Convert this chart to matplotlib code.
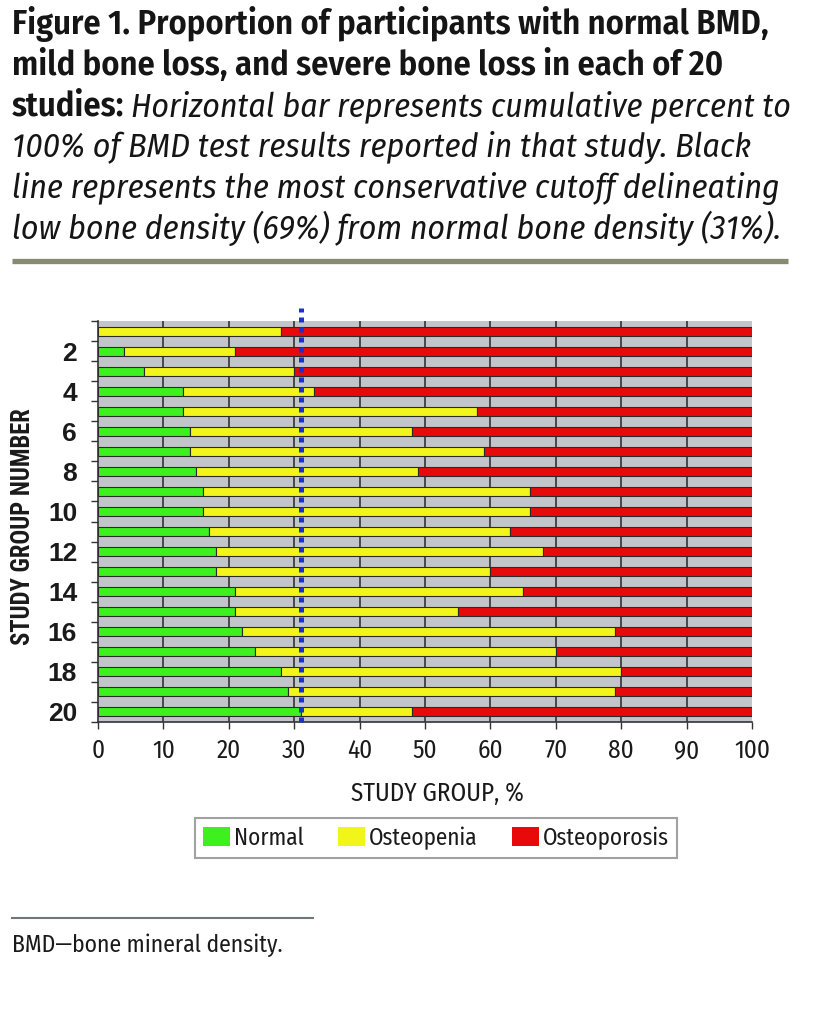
import matplotlib
matplotlib.use("Agg")
import matplotlib.pyplot as plt
import matplotlib.transforms as mtransforms
from matplotlib.patches import Patch
import numpy as np

HUMAN = ['Fira Sans Condensed', 'DejaVu Sans']
NARROW = ['Roboto Condensed', 'DejaVu Sans']
GROTESK = ['Liberation Sans', 'DejaVu Sans']
plt.rcParams['font.family'] = HUMAN

# data (percent of participants per study)
studies = list(range(1, 21))
normal = [0, 4, 7, 13, 13, 14, 14, 15, 16, 16, 17, 18, 18, 21, 21, 22, 24, 28, 29, 31]
osteopenia = [28, 17, 23, 20, 45, 34, 45, 34, 50, 50, 46, 50, 42, 44, 34, 57, 46, 52, 50, 17]
osteoporosis = [72, 79, 70, 67, 42, 52, 41, 51, 34, 34, 37, 32, 40, 35, 45, 21, 30, 20, 21, 52]
cutoff = 31
series_names = ['Normal', 'Osteopenia', 'Osteoporosis']
series_colors = ['#3ef01e', '#f2f51a', '#e80a0a']
x_ticks = list(range(0, 101, 10))

title_lines = [
    [("Figure 1. Proportion of participants with normal BMD,", 'bold')],
    [("mild bone loss, and severe bone loss in each of 20", 'bold')],
    [("studies:", 'bold'),
     ("Horizontal bar represents cumulative percent to", 'italic')],
    [("100% of BMD test results reported in that study. Black", 'italic')],
    [("line represents the most conservative cutoff delineating", 'italic')],
    [("low bone density (69%) from normal bone density (31%).", 'italic')],
]

W, H = 822, 1021
fig = plt.figure(figsize=(W / 100, H / 100), dpi=100)
renderer = fig.canvas.get_renderer()


def px(x, y):
    """pixel (from top-left) to figure fraction"""
    return x / W, 1 - y / H


def fit_size(text, target, family, weight='normal', style='normal'):
    """font size (pt) that makes text about target pixels wide"""
    t = fig.text(0, 0, text, fontsize=20, family=family, fontweight=weight, fontstyle=style)
    w = t.get_window_extent(renderer).width
    t.remove()
    return 20 * target / w


# --- title block ---
bold_size = fit_size(title_lines[0][0][0], 758, HUMAN, 'semibold')
ital_size = fit_size(title_lines[5][0][0], 768, HUMAN, 'normal', 'italic')
styles = {'bold': dict(fontweight='semibold', fontsize=bold_size),
          'italic': dict(fontstyle='italic', fontsize=ital_size)}

for i, pieces in enumerate(title_lines):
    x = 12
    y = 34 + i * 41
    for txt, kind in pieces:
        t = fig.text(*px(x, y), txt, va='baseline', ha='left', color='#151515', **styles[kind])
        x = t.get_window_extent(renderer).x1 + bold_size * 0.25

fig.add_artist(plt.Line2D([12 / W, 788 / W], [1 - 261.5 / H] * 2, color='#868b72',
                          lw=3.8, solid_capstyle='butt'))

# --- chart ---
ax = fig.add_axes([98 / W, 1 - 722 / H, 654 / W, 401 / H])
ax.set_facecolor('#c2c6ca')
ypos = np.arange(len(studies))
left = np.zeros(len(studies))
for vals, name, col in zip([normal, osteopenia, osteoporosis], series_names, series_colors):
    ax.barh(ypos, vals, left=left, height=0.45, color=col, edgecolor='#2a2a2a',
            linewidth=0.8, label=name, zorder=3)
    left = left + np.array(vals)

xtick_size = fit_size('100', 36, HUMAN)
ax.set_xlim(0, 100)
ax.set_ylim(len(studies) - 0.5, -0.5)
ax.set_xticks(x_ticks)
ax.set_xticklabels([str(v) for v in x_ticks], fontsize=xtick_size, color='#1a1a1a')
ax.tick_params(axis='x', length=5, width=1, pad=7, color='#333333')

# ticks at row boundaries, labels on even studies
ax.set_yticks(np.arange(len(studies) + 1) - 0.5)
ax.set_yticklabels([])
ax.tick_params(axis='y', which='major', length=5, width=1, color='#333333')
even = [i for i, s in enumerate(studies) if s % 2 == 0]
ax.set_yticks(even, minor=True)
ax.set_yticklabels([str(studies[i]) for i in even], minor=True, fontsize=19,
                   fontweight='bold', family=GROTESK, color='#1a1a1a')
ax.tick_params(axis='y', which='minor', length=0, pad=15)

ax.grid(axis='x', color='#333333', lw=1.2, zorder=1)
ax.set_axisbelow(True)
ax.xaxis.get_gridlines()[-1].set_visible(False)
ax.xaxis.get_gridlines()[0].set_visible(False)
for s in ['top', 'right']:
    ax.spines[s].set_visible(False)
for s in ['left', 'bottom']:
    ax.spines[s].set_color('#333333')
    ax.spines[s].set_linewidth(1.2)

# cutoff line, dotted, reaching a bit above the plot
trans = mtransforms.blended_transform_factory(ax.transData, ax.transAxes)
ax.plot([cutoff, cutoff], [0, 1.033], transform=trans, color='#1c30d2', lw=3.6,
        linestyle=(0, (1, 1)), dash_capstyle='butt', clip_on=False, zorder=5)

ylab_size = fit_size('STUDY GROUP NUMBER', 237, NARROW, 'bold')
fig.text(*px(23, 527), 'STUDY GROUP NUMBER', rotation=90, fontsize=ylab_size,
         fontweight='bold', family=NARROW, ha='center', va='center', color='#1a1a1a')
xlab_size = fit_size('STUDY GROUP, %', 173, HUMAN)
fig.text(*px(437, 794), 'STUDY GROUP, %', fontsize=xlab_size, ha='center', va='center',
         color='#1a1a1a')

leg_size = fit_size('NormalOsteopeniaOsteoporosis', 305, HUMAN)
em = leg_size * 100 / 72
handles = [Patch(facecolor=c, edgecolor='none', label=n)
           for n, c in zip(series_names, series_colors)]
leg = fig.legend(handles=handles, loc='center', bbox_to_anchor=px(436, 838), ncol=3,
                 fontsize=leg_size, frameon=True, fancybox=False, handlelength=27 / em,
                 handleheight=20 / em, handletextpad=4 / em, columnspacing=34 / em,
                 borderpad=0.35, borderaxespad=0)
leg.get_frame().set_edgecolor('#8a8a8a')
leg.get_frame().set_linewidth(1.5)
for t in leg.get_texts():
    t.set_color('#1a1a1a')

# --- footnote ---
fig.add_artist(plt.Line2D([12 / W, 313 / W], [1 - 918 / H] * 2, color='#6f7878', lw=1.5))
foot_size = fit_size('BMD\u2014bone mineral density.', 271, HUMAN)
fig.text(*px(12, 952), 'BMD\u2014bone mineral density.', fontsize=foot_size, va='baseline',
         ha='left', color='#1a1a1a')

fig.savefig('out.png', dpi=100, facecolor='white')
